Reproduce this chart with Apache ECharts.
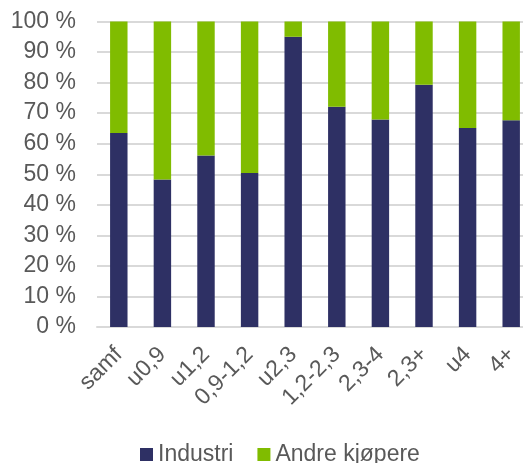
<!DOCTYPE html>
<html><head><meta charset="utf-8">
<script src="https://cdn.jsdelivr.net/npm/echarts@6/dist/echarts.min.js"></script>
<style>html,body{margin:0;padding:0;background:#fff;overflow:hidden}#c{width:545px;height:463px}</style>
</head><body><div id="c"></div>
<script>
const categories = ['samf','u0,9','u1,2','0,9-1,2','u2,3','1,2-2,3','2,3-4','2,3+','u4','4+'];
const industri = [63.5,48.3,56.1,50.4,95.0,72.1,67.9,79.3,65.1,67.7];
const andre = industri.map(v => +(100 - v).toFixed(1));
const seriesNames = ['Industri','Andre kjøpere'];

const chart = echarts.init(document.getElementById('c'), null, {renderer:'canvas'});
const font = 'Liberation Sans, Arial, sans-serif';
chart.setOption({
  animation:false,
  grid:{left:97,top:21.5,width:436,height:305.5,containLabel:false},
  legend:{data:seriesNames,top:438,left:135,itemWidth:13,itemHeight:13,itemGap:24,
    textStyle:{fontFamily:font,fontSize:23,color:'#595959'},icon:'rect'},
  xAxis:{type:'category',data:categories,
    axisLine:{lineStyle:{color:'#d9d9d9',width:2}},axisTick:{show:false},
    axisLabel:{rotate:45,interval:0,margin:24,padding:[8,0,0,0],fontFamily:font,fontSize:23,color:'#595959'}},
  yAxis:{type:'value',min:0,max:100,interval:10,
    axisLabel:{formatter:v=>v+' %',fontFamily:font,fontSize:23,color:'#595959',margin:21},
    axisLine:{show:false},axisTick:{show:false},
    splitLine:{lineStyle:{color:'#d9d9d9',width:2}}},
  series:[
    {name:seriesNames[0],type:'bar',stack:'a',data:industri,barWidth:'40%',itemStyle:{color:'#2e3064'}},
    {name:seriesNames[1],type:'bar',stack:'a',data:andre,barWidth:'40%',itemStyle:{color:'#80bc00'}}
  ]
});
</script></body></html>
